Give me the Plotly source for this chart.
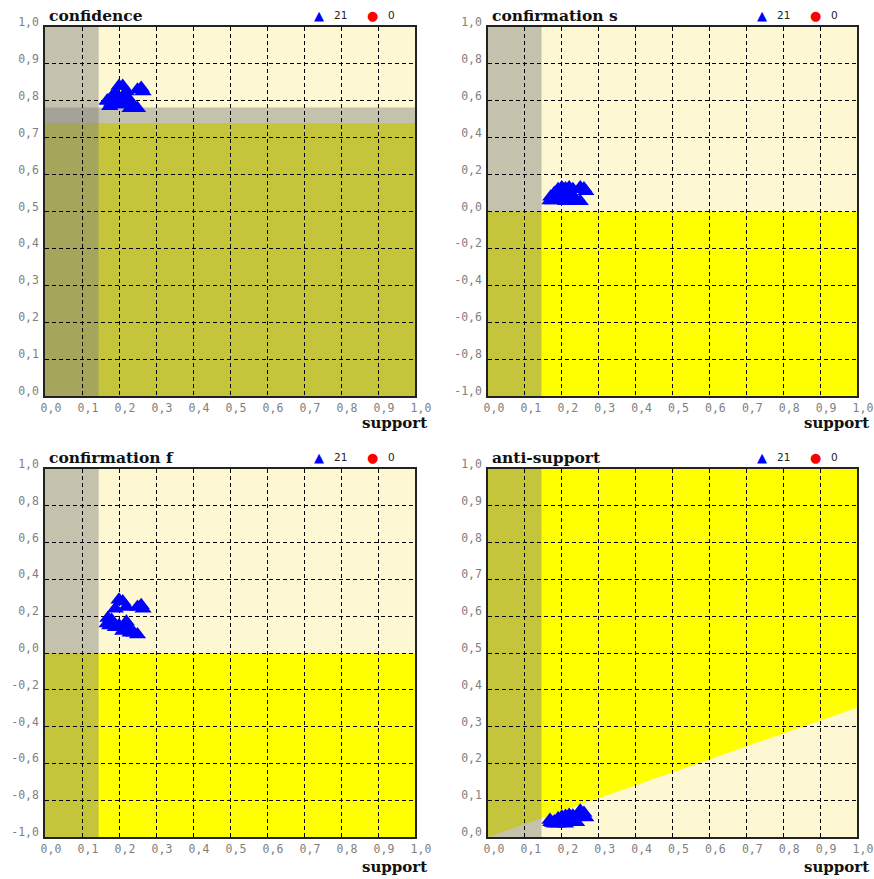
import plotly.graph_objects as go

# ---- rule measures (21 association rules) ----
support = [0.168, 0.170, 0.180, 0.190, 0.200, 0.210, 0.200, 0.210, 0.220, 0.230,
           0.240, 0.250, 0.260, 0.265, 0.190, 0.220, 0.230, 0.180, 0.250, 0.215, 0.175]
confidence = [0.800, 0.800, 0.810, 0.820, 0.840, 0.840, 0.800, 0.790, 0.810, 0.800,
              0.785, 0.780, 0.835, 0.825, 0.790, 0.825, 0.780, 0.795, 0.830, 0.800, 0.785]
confirmation_s = [0.060, 0.080, 0.100, 0.120, 0.130, 0.125, 0.070, 0.055, 0.110, 0.080,
                  0.060, 0.055, 0.125, 0.110, 0.065, 0.130, 0.120, 0.075, 0.130, 0.090, 0.060]
confirmation_f = [0.160, 0.190, 0.160, 0.240, 0.290, 0.280, 0.150, 0.120, 0.170, 0.130,
                  0.110, 0.100, 0.260, 0.240, 0.140, 0.250, 0.110, 0.180, 0.250, 0.140, 0.150]
anti_support = [0.046, 0.040, 0.042, 0.050, 0.055, 0.057, 0.040, 0.036, 0.060, 0.045,
                0.040, 0.060, 0.065, 0.053, 0.036, 0.045, 0.058, 0.036, 0.071, 0.050, 0.038]

# second rule class (empty)
red_support = []
red_value = []

# thresholds
MIN_SUPPORT = 0.145
MIN_CONFIDENCE = 0.74
CONF_BAND = 0.782

# ticks
x_ticks = [i / 10 for i in range(11)]
unit_ticks = [i / 10 for i in range(11)]
signed_ticks = [-1.0, -0.8, -0.6, -0.4, -0.2, 0.0, 0.2, 0.4, 0.6, 0.8, 1.0]


def lbl(v):
    return f"{v:.1f}".replace(".", ",")


W, H = 874, 879
LIGHT = "#FDF8D2"
YELLOW = "#FFFF00"
SHADE = "rgba(128,128,128,0.46)"


def fx(p):
    return p / W


def fy(p):
    return 1 - p / H


panels = [
    dict(title="confidence", y=confidence, rng=[0, 1], ticks=unit_ticks,
         xpx=(45, 415), ypx=(27, 396), top=15, lab=423),
    dict(title="confirmation s", y=confirmation_s, rng=[-1, 1], ticks=signed_ticks,
         xpx=(488, 857), ypx=(27, 396), top=15, lab=423),
    dict(title="confirmation f", y=confirmation_f, rng=[-1, 1], ticks=signed_ticks,
         xpx=(45, 415), ypx=(469, 837), top=457, lab=867),
    dict(title="anti-support", y=anti_support, rng=[0, 1], ticks=unit_ticks,
         xpx=(488, 857), ypx=(469, 837), top=457, lab=867),
]

fig = go.Figure()
shapes = []
annotations = []
tick_font = dict(family="DejaVu Sans Mono", size=11.5, color="#808080")
title_font = dict(family="DejaVu Serif", size=15.5, color="#111111")
label_font = dict(family="DejaVu Serif", size=15, color="#111111")

for i, p in enumerate(panels):
    n = "" if i == 0 else str(i + 1)
    xa, ya = "x" + n, "y" + n
    x0, x1 = p["xpx"]
    y0, y1 = p["ypx"]
    axis_common = dict(
        showgrid=True, gridcolor="#000000", gridwidth=1, griddash="4px,3px",
        zeroline=False, showline=True, linecolor="#222222", linewidth=1.5,
        mirror=True, ticks="", tickfont=tick_font, fixedrange=True,
        automargin=False,
    )
    fig.layout["xaxis" + n] = dict(
        axis_common, domain=[fx(x0), fx(x1)], anchor=ya, range=[0, 1],
        tickvals=x_ticks, ticktext=[lbl(v) for v in x_ticks],
        ticklabelshift=6, ticklabelstandoff=0,
    )
    fig.layout["yaxis" + n] = dict(
        axis_common, domain=[fy(y1), fy(y0)], anchor=xa, range=p["rng"],
        tickvals=p["ticks"], ticktext=[lbl(v) for v in p["ticks"]],
        ticklabelshift=-5, ticklabelstandoff=2,
    )

    lo, hi = p["rng"]
    # regions failing the rule threshold
    if p["title"] == "confidence":
        shapes.append(dict(type="rect", xref=xa, yref=ya, x0=0, x1=1, y0=lo, y1=MIN_CONFIDENCE,
                           fillcolor=YELLOW, line_width=0, layer="below"))
        shapes.append(dict(type="rect", xref=xa, yref=ya, x0=0, x1=1, y0=lo, y1=CONF_BAND,
                           fillcolor=SHADE, line_width=0, layer="below"))
    elif p["title"].startswith("confirmation"):
        shapes.append(dict(type="rect", xref=xa, yref=ya, x0=0, x1=1, y0=lo, y1=0,
                           fillcolor=YELLOW, line_width=0, layer="below"))
    else:
        slope = 1 / MIN_CONFIDENCE - 1
        shapes.append(dict(type="path", xref=xa, yref=ya,
                           path=f"M 0 0 L 1 {slope:.4f} L 1 1 L 0 1 Z",
                           fillcolor=YELLOW, line_width=0, layer="below"))
    # minimum support column
    shapes.append(dict(type="rect", xref=xa, yref=ya, x0=0, x1=MIN_SUPPORT, y0=lo, y1=hi,
                       fillcolor=SHADE, line_width=0, layer="below"))

    fig.add_trace(go.Scatter(
        x=support, y=p["y"], xaxis=xa, yaxis=ya, mode="markers",
        marker=dict(symbol="triangle-up", size=15, color="#0000FF", line_width=0),
        showlegend=False, hoverinfo="skip",
    ))
    fig.add_trace(go.Scatter(
        x=red_support, y=red_value, xaxis=xa, yaxis=ya, mode="markers",
        marker=dict(symbol="circle", size=10, color="#FF0000"),
        showlegend=False, hoverinfo="skip",
    ))

    # panel title
    annotations.append(dict(text=f"<b>{p['title']}</b>", xref="paper", yref="paper",
                            x=fx(x0 + 2), y=fy(p["top"]), xanchor="left", yanchor="middle",
                            showarrow=False, font=title_font))
    # x-axis name
    annotations.append(dict(text="<b>support</b>", xref="paper", yref="paper",
                            x=fx(x1 + 14), y=fy(p["lab"]), xanchor="right", yanchor="middle",
                            showarrow=False, font=label_font))
    # per-panel key
    ky = fy(p["top"])
    annotations.append(dict(text="▲", xref="paper", yref="paper", x=fx(x0 + 274), y=ky,
                            xanchor="center", yanchor="middle", showarrow=False,
                            font=dict(family="DejaVu Sans", size=13, color="#0000FF")))
    annotations.append(dict(text=str(len(support)), xref="paper", yref="paper", x=fx(x0 + 287),
                            y=ky, xanchor="left", yanchor="middle", showarrow=False,
                            font=dict(family="DejaVu Sans", size=10.5, color="#222222")))
    annotations.append(dict(text="●", xref="paper", yref="paper", x=fx(x0 + 327), y=ky,
                            xanchor="center", yanchor="middle", showarrow=False,
                            font=dict(family="DejaVu Sans", size=13, color="#FF0000")))
    annotations.append(dict(text=str(len(red_support)), xref="paper", yref="paper", x=fx(x0 + 341),
                            y=ky, xanchor="left", yanchor="middle", showarrow=False,
                            font=dict(family="DejaVu Sans", size=10.5, color="#222222")))

fig.update_layout(
    width=W, height=H, margin=dict(l=0, r=0, t=0, b=0, autoexpand=False),
    paper_bgcolor="#FFFFFF", plot_bgcolor=LIGHT,
    shapes=shapes, annotations=annotations, showlegend=False,
)

fig.write_html(
    "out.html",
    post_script="document.body.style.margin='0';document.body.style.overflow='hidden';",
)
